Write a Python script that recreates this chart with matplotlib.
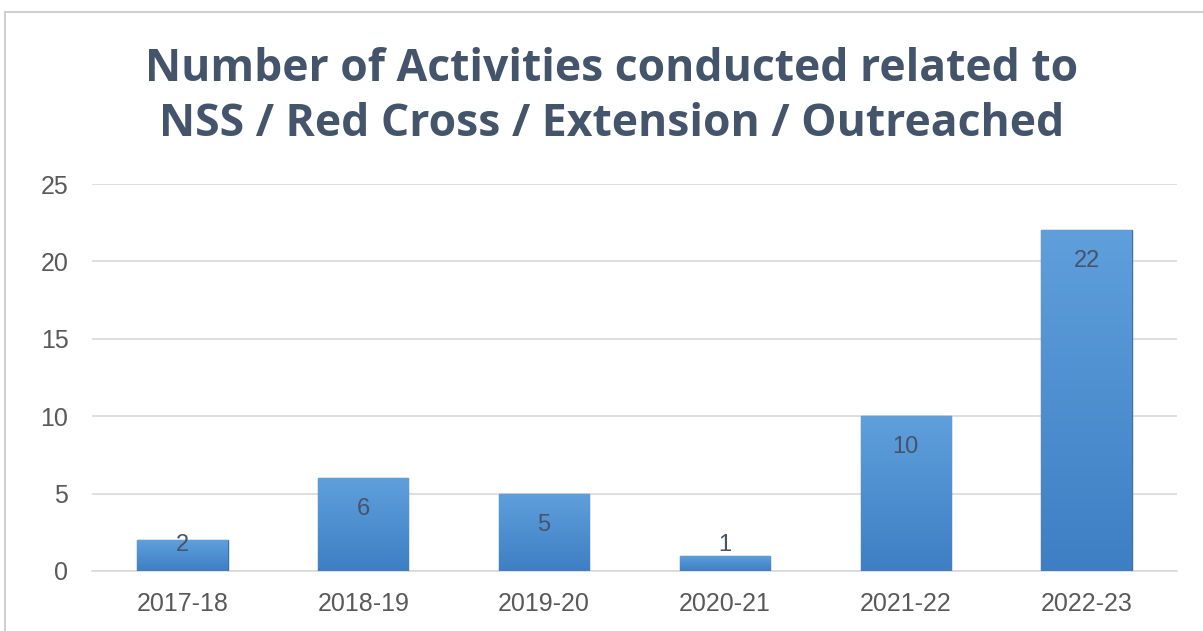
import numpy as np
import matplotlib.pyplot as plt
from matplotlib.patches import Rectangle
from matplotlib.colors import LinearSegmentedColormap

# data
years = ['2017-18', '2018-19', '2019-20', '2020-21', '2021-22', '2022-23']
activities = [2, 6, 5, 1, 10, 22]
y_ticks = [0, 5, 10, 15, 20, 25]

TITLE = 'Number of Activities conducted related to\nNSS / Red Cross / Extension / Outreached'

fig = plt.figure(figsize=(12.03, 6.31), dpi=100)
fig.patch.set_facecolor('white')

# chart border
fig.add_artist(Rectangle((5 / 1203, -0.05), 1.1, 1 - 12 / 631 + 0.05, transform=fig.transFigure,
                         fill=False, edgecolor='#D0D0D0', linewidth=1.5))

ax = fig.add_axes([92 / 1203, 60 / 631, (1177 - 92) / 1203, (571 - 184) / 631])
x = np.arange(len(years))
bars = ax.bar(x, activities, width=0.5, color='#5B9BD5', edgecolor='#3F6FA3', linewidth=1, zorder=3)

# vertical gradient fill on each bar
grad = np.linspace(0, 1, 256).reshape(-1, 1)
cmap = LinearSegmentedColormap.from_list('bar', ['#3E7FC4', '#5F9FDC'])
for b in bars:
    x0, y0, w, h = b.get_x(), b.get_y(), b.get_width(), b.get_height()
    im = ax.imshow(grad, cmap=cmap, extent=(x0, x0 + w, y0, y0 + h), origin='lower',
                   aspect='auto', zorder=3.5)
    im.set_clip_path(b)

# labels at inside end, pushed up when the bar is too short
for xi, v in zip(x, activities):
    ax.text(xi, max(v - 2.0, 1.65), str(v), ha='center', va='center', fontsize=17,
            color='#46536A', family='Liberation Sans', zorder=5)

ax.set_xlim(-0.5, len(years) - 0.5)
ax.set_ylim(0, 25)
ax.set_yticks(y_ticks)
ax.set_xticks(x)
ax.set_xticklabels(years)
ax.tick_params(axis='both', length=0, labelsize=18, labelcolor='#595959')
ax.tick_params(axis='x', pad=15)
ax.tick_params(axis='y', pad=17)
for lbl in ax.get_xticklabels() + ax.get_yticklabels():
    lbl.set_family('Liberation Sans')
ax.grid(axis='y', color='#D9D9D9', linewidth=1.2, zorder=0)
for s in ['top', 'right', 'left']:
    ax.spines[s].set_visible(False)
ax.spines['bottom'].set_color('#D9D9D9')
ax.spines['bottom'].set_linewidth(1.2)

fig.text(612 / 1203, 1 - 97 / 631, TITLE, ha='center', va='center', fontsize=32,
         fontweight='bold', color='#44546A', family='Open Sans', linespacing=1.27)

fig.savefig('out.png', dpi=100)
